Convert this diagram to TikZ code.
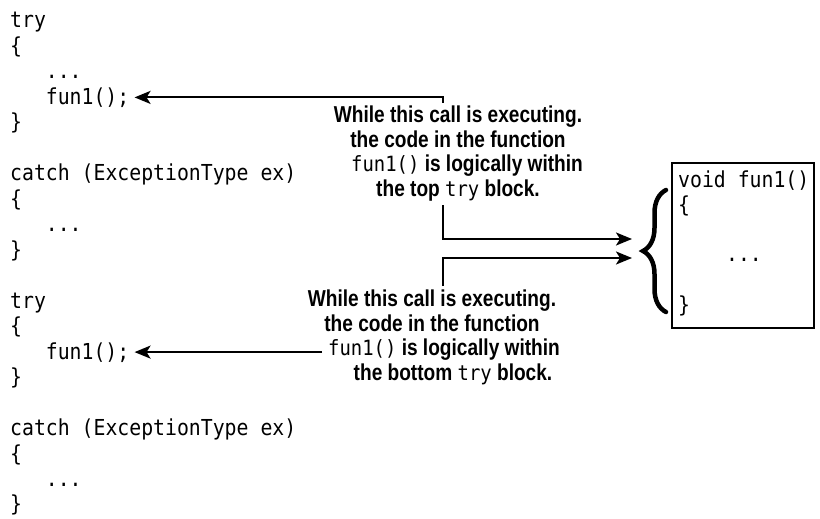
\documentclass[tikz,border=0pt]{standalone}
\usepackage{fontspec}
\setmonofont[FakeStretch=0.9]{DejaVu Sans Mono}
\newfontfamily\labfont[FakeStretch=0.83]{Liberation Sans Bold}
\usetikzlibrary{arrows.meta,decorations.pathreplacing}
\newcommand\lcode[1]{{\fontsize{21}{24.5}\selectfont\ttfamily\mdseries #1}}
\tikzset{
  code/.style={anchor=base west,inner sep=0pt,font=\ttfamily\fontsize{22}{25}\selectfont},
  lab/.style={align=center,inner sep=0pt,anchor=north,font=\labfont\fontsize{23}{24.8}\selectfont},
  arr/.style={line width=2.2pt,-{Stealth[length=16pt,width=13pt,inset=4pt]}},
  fbox/.style={draw,line width=2.2pt,inner sep=0pt,anchor=north west,minimum width=142pt,minimum height=165pt},
  bigbrace/.style={decorate,decoration={brace,amplitude=23pt},line width=4.5pt,line cap=round}
}
\begin{document}
\begin{tikzpicture}[x=1pt,y=-1pt]
\useasboundingbox (0,0) rectangle (820,519);
% left listing
\node[code] (c0)  at (10,28.0)  {try};
\node[code] (c1)  at (10,53.5)  {\{};
\node[code] (c2)  at (45.7,78.9) {...};
\node[code] (c3)  at (45.7,104.4) {fun1();};
\node[code] (c4)  at (10,129.9) {\}};
\node[code] (c6)  at (10,180.8) {catch (ExceptionType ex)};
\node[code] (c7)  at (10,206.3) {\{};
\node[code] (c8)  at (45.7,231.8) {...};
\node[code] (c9)  at (10,257.2) {\}};
\node[code] (c11) at (10,308.2) {try};
\node[code] (c12) at (10,333.6) {\{};
\node[code] (c13) at (45.7,359.1) {fun1();};
\node[code] (c14) at (10,384.6) {\}};
\node[code] (c16) at (10,435.5) {catch (ExceptionType ex)};
\node[code] (c17) at (10,461.0) {\{};
\node[code] (c18) at (45.7,486.5) {...};
\node[code] (c19) at (10,511.9) {\}};
% labels
\node[lab] (lab1) at (458,105.5) {While this call is executing.\\the code in the function\\\hspace*{18pt}\lcode{fun1()} is logically within\\the top \lcode{try} block.};
\node[lab] (lab2) at (432,289.5) {While this call is executing.\\the code in the function\\\hspace*{24pt}\lcode{fun1()} is logically within\\\hspace*{42pt}the bottom \lcode{try} block.};
% function box
\node[fbox] (box) at (671,162) {};
\node[code] (f0) at (678,187) {void fun1()};
\node[code] (f1) at (678,212.5) {\{};
\node[code,anchor=base] (f2) at (744,261) {...};
\node[code] (f3) at (678,312) {\}};
\draw[bigbrace] (666,312) -- (666,190);
% connector points
\coordinate (j1) at (443,103);
\coordinate (j2) at (443,205);
\coordinate (j3) at (443,286);
\coordinate (a2) at (322,0);
\coordinate (bt1) at (632,239);
\coordinate (bt2) at (632,258);
\coordinate (t3) at ([xshift=5pt,yshift=7pt]c3.base east);
\coordinate (t13) at ([xshift=5pt,yshift=7pt]c13.base east);
\draw[arr] (j1) |- (t3);
\draw[arr] (j2) |- (bt1);
\draw[arr] (j3) |- (bt2);
\draw[arr] (t13 -| a2) -- (t13);
\end{tikzpicture}
\end{document}
